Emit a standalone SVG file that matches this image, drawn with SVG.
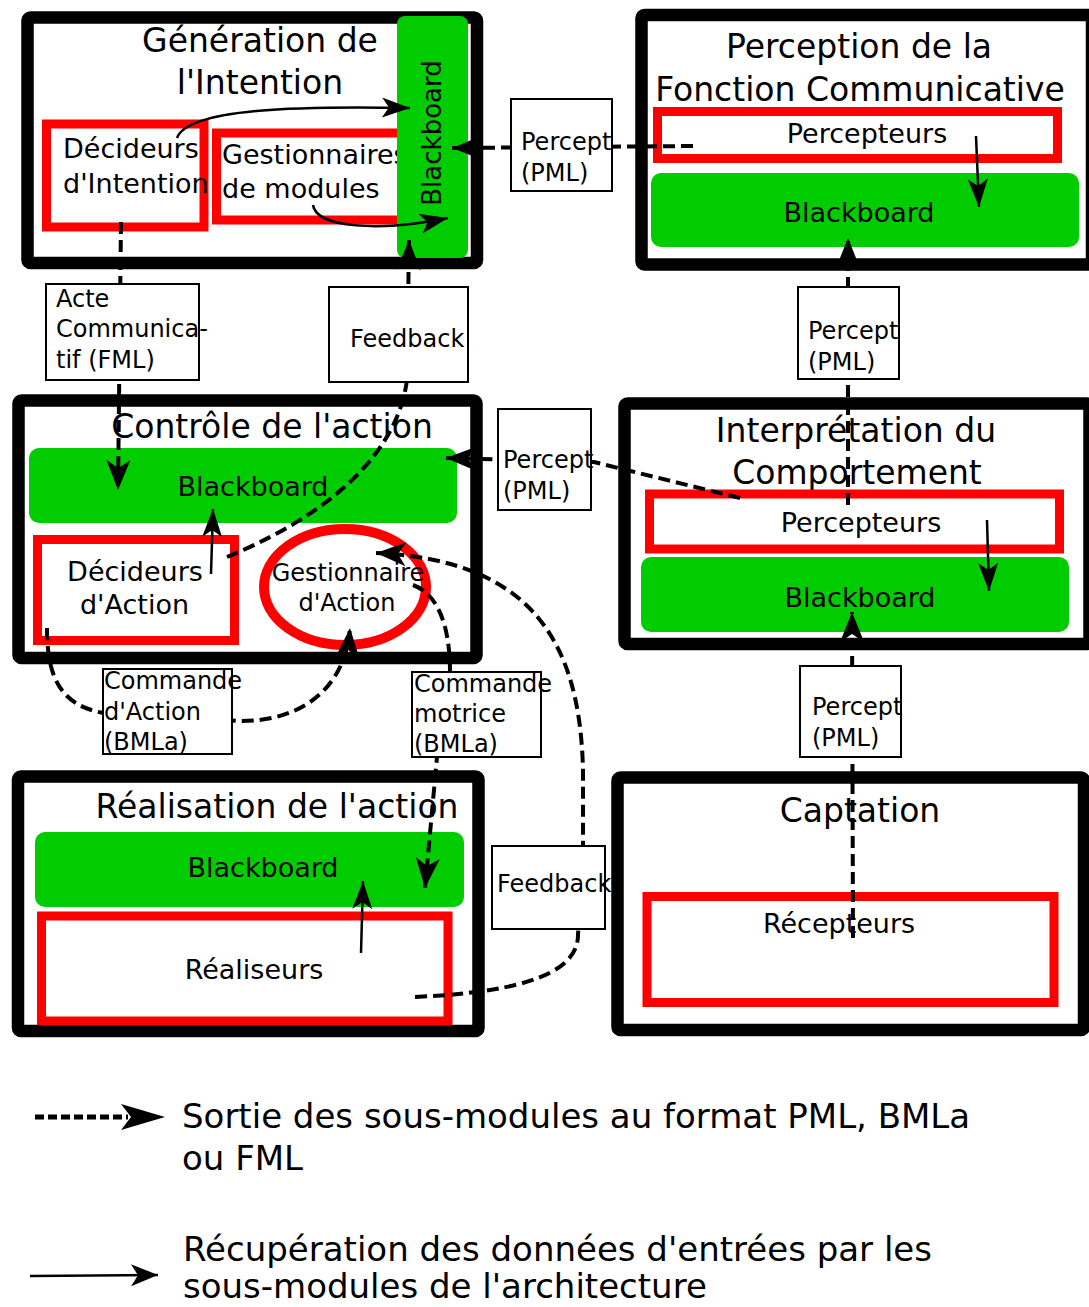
<svg xmlns="http://www.w3.org/2000/svg" width="1089" height="1307" viewBox="0 0 1089 1307">
<defs>
<style>
text{font-family:"DejaVu Sans","Liberation Sans",sans-serif;fill:#000}
.mod{fill:#fff;stroke:#000;stroke-width:12.5;stroke-linejoin:round}
.red{fill:#fff;stroke:#f00;stroke-width:9}
.bb{fill:#00cc00}
.title{font-size:33px;text-anchor:middle}
.t27{font-size:27px}
.mid{text-anchor:middle}
.t24{font-size:24px}
.lab{fill:#fff;stroke:#000;stroke-width:2}
.dash{fill:none;stroke:#000;stroke-width:4;stroke-dasharray:12 6}
.solid{fill:none;stroke:#000;stroke-width:2.5}
.leg{font-size:34px}
</style>
<marker id="ad" viewBox="-32 -13 34 26" markerWidth="34" markerHeight="26" refX="0" refY="0" orient="auto" markerUnits="userSpaceOnUse"><path d="M0,0 L-30,-12 L-22,0 L-30,12 Z" fill="#000"/></marker>
<marker id="as" viewBox="-30 -11 32 22" markerWidth="32" markerHeight="22" refX="0" refY="0" orient="auto" markerUnits="userSpaceOnUse"><path d="M0,0 L-28,-10 L-21,0 L-28,10 Z" fill="#000"/></marker>
<marker id="al" viewBox="-46 -14 48 28" markerWidth="48" markerHeight="28" refX="0" refY="0" orient="auto" markerUnits="userSpaceOnUse"><path d="M0,0 L-44,-13 L-34,0 L-44,13 Z" fill="#000"/></marker>
<marker id="al2" viewBox="-30 -12 32 24" markerWidth="32" markerHeight="24" refX="0" refY="0" orient="auto" markerUnits="userSpaceOnUse"><path d="M0,0 L-27,-11 L-20,0 L-27,11 Z" fill="#000"/></marker>
</defs>

<g id="generation-intention">
<rect class="mod" x="27.5" y="17.5" width="449.5" height="245.5" rx="3"/>
<text class="title" x="260" y="52">Génération de</text>
<text class="title" x="260" y="94">l'Intention</text>
<rect class="red" x="46.5" y="124" width="157.5" height="103"/>
<text class="t27" x="63" y="158">Décideurs</text>
<text class="t27" x="63" y="193">d'Intention</text>
<rect class="red" x="216.5" y="133" width="190" height="87"/>
<text class="t27" x="222" y="164">Gestionnaires</text>
<text class="t27" x="222" y="198">de modules</text>
<rect class="bb" x="397" y="16" width="71" height="242" rx="8"/>
<text class="mid" font-size="26" transform="translate(441,133) rotate(-90)">Blackboard</text>
</g>

<g id="perception-fonction">
<rect class="mod" x="641.5" y="15" width="450.5" height="249.5" rx="3"/>
<text class="title" x="859" y="58">Perception de la</text>
<text class="title" x="860" y="101">Fonction Communicative</text>
<rect class="red" x="657.5" y="111.5" width="400" height="47"/>
<text class="t27 mid" x="867" y="143">Percepteurs</text>
<rect class="bb" x="651" y="173" width="428" height="74" rx="10"/>
<text class="t27 mid" x="859" y="222">Blackboard</text>
</g>

<g id="controle-action">
<rect class="mod" x="18.5" y="400.5" width="458" height="257.5" rx="3"/>
<text class="title" x="272" y="438">Contrôle de l'action</text>
<rect class="bb" x="29" y="448" width="428" height="75" rx="10"/>
<text class="t27 mid" x="253" y="496">Blackboard</text>
<rect class="red" x="37.5" y="539.5" width="197" height="101"/>
<text class="t27 mid" x="135" y="581">Décideurs</text>
<text class="t27 mid" x="134.5" y="614">d'Action</text>
<ellipse cx="345" cy="587" rx="81" ry="58" fill="#fff" stroke="#f00" stroke-width="10"/>
<text class="t24 mid" x="348" y="581">Gestionnaire</text>
<text class="t24 mid" x="347" y="611">d'Action</text>
</g>

<g id="interpretation-comportement">
<rect class="mod" x="624.5" y="403.5" width="465" height="240.5" rx="3"/>
<text class="title" x="856" y="442">Interprétation du</text>
<text class="title" x="857" y="484">Comportement</text>
<rect class="red" x="649.5" y="494" width="410" height="55"/>
<text class="t27 mid" x="861" y="532">Percepteurs</text>
<rect class="bb" x="641" y="557" width="428" height="75" rx="10"/>
<text class="t27 mid" x="860" y="607">Blackboard</text>
</g>

<g id="realisation-action">
<rect class="mod" x="18" y="776.5" width="460.5" height="254.5" rx="3"/>
<text class="title" x="277" y="818">Réalisation de l'action</text>
<rect class="bb" x="35" y="832" width="429" height="75" rx="10"/>
<text class="t27 mid" x="263" y="877">Blackboard</text>
<rect class="red" x="41.5" y="916" width="406.5" height="105"/>
<text class="t27 mid" x="254" y="979">Réaliseurs</text>
</g>

<g id="captation">
<rect class="mod" x="617.5" y="777.5" width="466.5" height="252.5" rx="3"/>
<text class="title" x="860" y="822">Captation</text>
<rect class="red" x="647" y="896.5" width="407" height="106"/>
<text class="t27 mid" x="839" y="933">Récepteurs</text>
</g>

<g id="connectors">
<path class="solid" d="M177,138 C188,108 300,106 410,108" marker-end="url(#as)"/>
<path class="solid" d="M313,205 C316,228 380,232 448,218" marker-end="url(#as)"/>
<path class="dash" d="M121,222 L118,490" marker-end="url(#ad)"/>
<path class="dash" d="M227,557 C300,527 395,470 407,380 L409,240" marker-end="url(#ad)"/>
<path class="dash" d="M693,146 L452,148" marker-end="url(#ad)"/>
<path class="solid" d="M976,136 L979,207" marker-end="url(#as)"/>
<path class="dash" d="M848,505 L848,238" marker-end="url(#ad)"/>
<path class="dash" d="M740,498 L594,462 L446,458" marker-end="url(#ad)"/>
<path class="solid" d="M211,574 L213,509" marker-end="url(#as)"/>
<path class="solid" d="M987,520 L989,591" marker-end="url(#as)"/>
<path class="dash" d="M853,938 L852,612" marker-end="url(#ad)"/>
<path class="dash" d="M415,997 C500,993 578,980 578,935 L583,845 L583,770 C580,640 530,560 376,553" marker-end="url(#ad)"/>
<path class="dash" d="M413,585 C440,595 450,630 450,672 L437,757 L425,888" marker-end="url(#ad)"/>
<path class="dash" d="M47,628 C47,680 62,705 103,713 L238,721 C300,722 345,690 350,628" marker-end="url(#ad)"/>
<path class="solid" d="M361,953 L363,881" marker-end="url(#as)"/>
</g>

<g id="label-acte">
<rect class="lab" x="46" y="284" width="153" height="96"/>
<text class="t24" x="56" y="307">Acte</text>
<text class="t24" x="56" y="337">Communica-</text>
<text class="t24" x="56" y="368">tif (FML)</text>
</g>
<g id="label-feedback-1">
<rect class="lab" x="329" y="287" width="139" height="95"/>
<text class="t24" x="350" y="347">Feedback</text>
</g>
<g id="label-percept-1">
<rect class="lab" x="511" y="99" width="101" height="92"/>
<text class="t24" x="521" y="150">Percept</text>
<text class="t24" x="521" y="181">(PML)</text>
</g>
<g id="label-percept-2">
<rect class="lab" x="798" y="287" width="101" height="92"/>
<text class="t24" x="808" y="339">Percept</text>
<text class="t24" x="808" y="370">(PML)</text>
</g>
<g id="label-percept-3">
<rect class="lab" x="498" y="409" width="93" height="101"/>
<text class="t24" x="503" y="468">Percept</text>
<text class="t24" x="503" y="499">(PML)</text>
</g>
<g id="label-percept-4">
<rect class="lab" x="800" y="666" width="101" height="91"/>
<text class="t24" x="812" y="715">Percept</text>
<text class="t24" x="812" y="746">(PML)</text>
</g>
<g id="label-commande-action">
<rect class="lab" x="103" y="669" width="129" height="85"/>
<text class="t24" x="104" y="689">Commande</text>
<text class="t24" x="104" y="720">d'Action</text>
<text class="t24" x="104" y="750">(BMLa)</text>
</g>
<g id="label-commande-motrice">
<rect class="lab" x="412" y="672" width="129" height="85"/>
<text class="t24" x="414" y="692">Commande</text>
<text class="t24" x="414" y="722">motrice</text>
<text class="t24" x="414" y="752">(BMLa)</text>
</g>
<g id="label-feedback-2">
<rect class="lab" x="492" y="846" width="113" height="83"/>
<text class="t24" x="497" y="892">Feedback</text>
</g>

<g id="legend">
<path d="M35,1117 L128,1117" fill="none" stroke="#000" stroke-width="5" stroke-dasharray="9 4"/>
<path d="M120,1117 L165,1117" fill="none" stroke="none" marker-end="url(#al)"/>
<text class="leg" x="182" y="1128">Sortie des sous-modules au format PML, BMLa</text>
<text class="leg" x="182" y="1170">ou FML</text>
<path d="M30,1276 L158,1275" fill="none" stroke="#000" stroke-width="2.5" marker-end="url(#al2)"/>
<text class="leg" x="183" y="1261">Récupération des données d'entrées par les</text>
<text class="leg" x="183" y="1298">sous-modules de l'architecture</text>
</g>
</svg>
